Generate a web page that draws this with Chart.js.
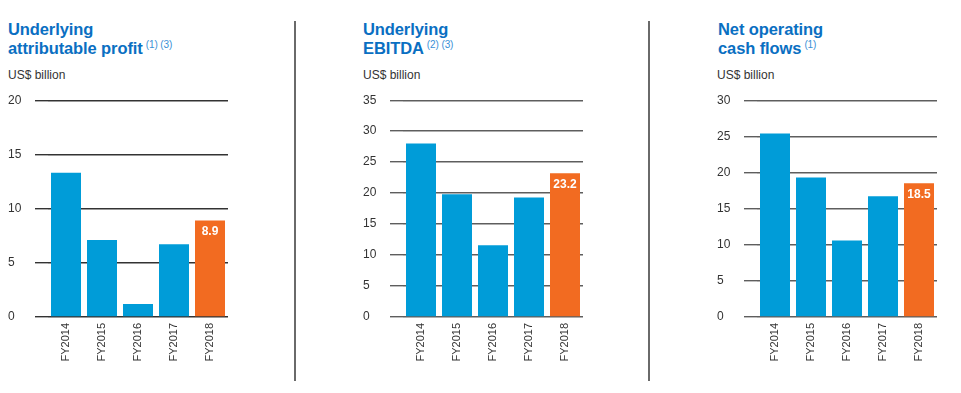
<!DOCTYPE html>
<html>
<head>
<meta charset="utf-8">
<script src="https://cdn.jsdelivr.net/npm/chart.js@4"></script>
<style>
  html, body { margin: 0; padding: 0; background: #fff; }
  body { width: 961px; height: 393px; position: relative; overflow: hidden;
         font-family: "Liberation Sans", Arial, sans-serif; }
  .title { position: absolute; top: 20px; font-size: 16.5px; font-weight: bold;
           line-height: 18.5px; color: #0a6fc2; letter-spacing: -0.1px; }
  .title sup { font-size: 10px; font-weight: normal; color: #3a8fd6; vertical-align: 6px;
               line-height: 0; margin-left: 3px; }
  .unit { position: absolute; top: 68px; font-size: 12px; line-height: 14px; color: #333; }
  .sep { position: absolute; top: 21px; width: 1.5px; height: 360px; background: #6a6a6a; }
  .panel { position: absolute; top: 90px; width: 240px; height: 295px; }
</style>
</head>
<body>
<div class="title" style="left:8px">Underlying<br>attributable profit<sup>(1) (3)</sup></div>
<div class="unit" style="left:8px">US$ billion</div>
<div class="panel" style="left:0px"><canvas id="profitChart"></canvas></div>

<div class="sep" style="left:294px"></div>

<div class="title" style="left:363px">Underlying<br>EBITDA<sup>(2) (3)</sup></div>
<div class="unit" style="left:363px">US$ billion</div>
<div class="panel" style="left:355px"><canvas id="ebitdaChart"></canvas></div>

<div class="sep" style="left:648px"></div>

<div class="title" style="left:718px">Net operating<br>cash flows<sup>(1)</sup></div>
<div class="unit" style="left:717px">US$ billion</div>
<div class="panel" style="left:709px"><canvas id="cashChart"></canvas></div>

<script>
const categories = ["FY2014", "FY2015", "FY2016", "FY2017", "FY2018"];

const profitValues = [13.3, 7.1, 1.2, 6.7, 8.9];
const ebitdaValues = [28.0, 19.8, 11.6, 19.3, 23.2];
const cashFlowValues = [25.4, 19.3, 10.6, 16.7, 18.5];

const profitTicks = [0, 5, 10, 15, 20];
const ebitdaTicks = [0, 5, 10, 15, 20, 25, 30, 35];
const cashFlowTicks = [0, 5, 10, 15, 20, 25, 30];

const highlightIndex = 4;
const BLUE = "#009cd8";
const ORANGE = "#f26b21";
const FONT = '"Liberation Sans", Arial, sans-serif';

// white value label inside the highlighted bar
const barLabel = {
    id: "barLabel",
    afterDatasetsDraw(chart) {
        const bar = chart.getDatasetMeta(0).data[highlightIndex];
        const value = chart.data.datasets[0].data[highlightIndex];
        const ctx = chart.ctx;
        ctx.save();
        ctx.fillStyle = "#fff";
        ctx.font = "bold 12px " + FONT;
        ctx.textAlign = "center";
        ctx.textBaseline = "middle";
        ctx.fillText(value.toFixed(1), bar.x, bar.y + 11);
        ctx.restore();
    }
};

function makeChart(id, values, ticks, gridColor) {
    new Chart(document.getElementById(id), {
        type: "bar",
        data: {
            labels: categories,
            datasets: [{
                data: values,
                backgroundColor: values.map((v, i) => i === highlightIndex ? ORANGE : BLUE),
                barPercentage: 30 / 36,
                categoryPercentage: 1
            }]
        },
        options: {
            responsive: true,
            maintainAspectRatio: false,
            animation: false,
            layout: { padding: { left: 8, right: 12, top: 9.5, bottom: 0 } },
            plugins: { legend: { display: false }, tooltip: { enabled: false } },
            scales: {
                x: {
                    grid: { display: false, drawTicks: false },
                    border: { display: false },
                    ticks: {
                        minRotation: 90, maxRotation: 90, padding: 6,
                        color: "#333", font: { family: FONT, size: 11 }
                    },
                    afterFit(scale) { scale.height = 68; }
                },
                y: {
                    min: ticks[0],
                    max: ticks[ticks.length - 1],
                    afterBuildTicks(scale) { scale.ticks = ticks.map(v => ({ value: v })); },
                    grid: { color: gridColor, lineWidth: 1.4, tickLength: 13 },
                    border: { display: false },
                    ticks: {
                        crossAlign: "far",
                        color: "#333", font: { family: FONT, size: 12 }
                    },
                    afterFit(scale) { scale.width = 40; }
                }
            }
        },
        plugins: [barLabel]
    });
}

makeChart("profitChart", profitValues, profitTicks, "#333");
makeChart("ebitdaChart", ebitdaValues, ebitdaTicks, "#5e5e5e");
makeChart("cashChart", cashFlowValues, cashFlowTicks, "#5e5e5e");
</script>
</body>
</html>
